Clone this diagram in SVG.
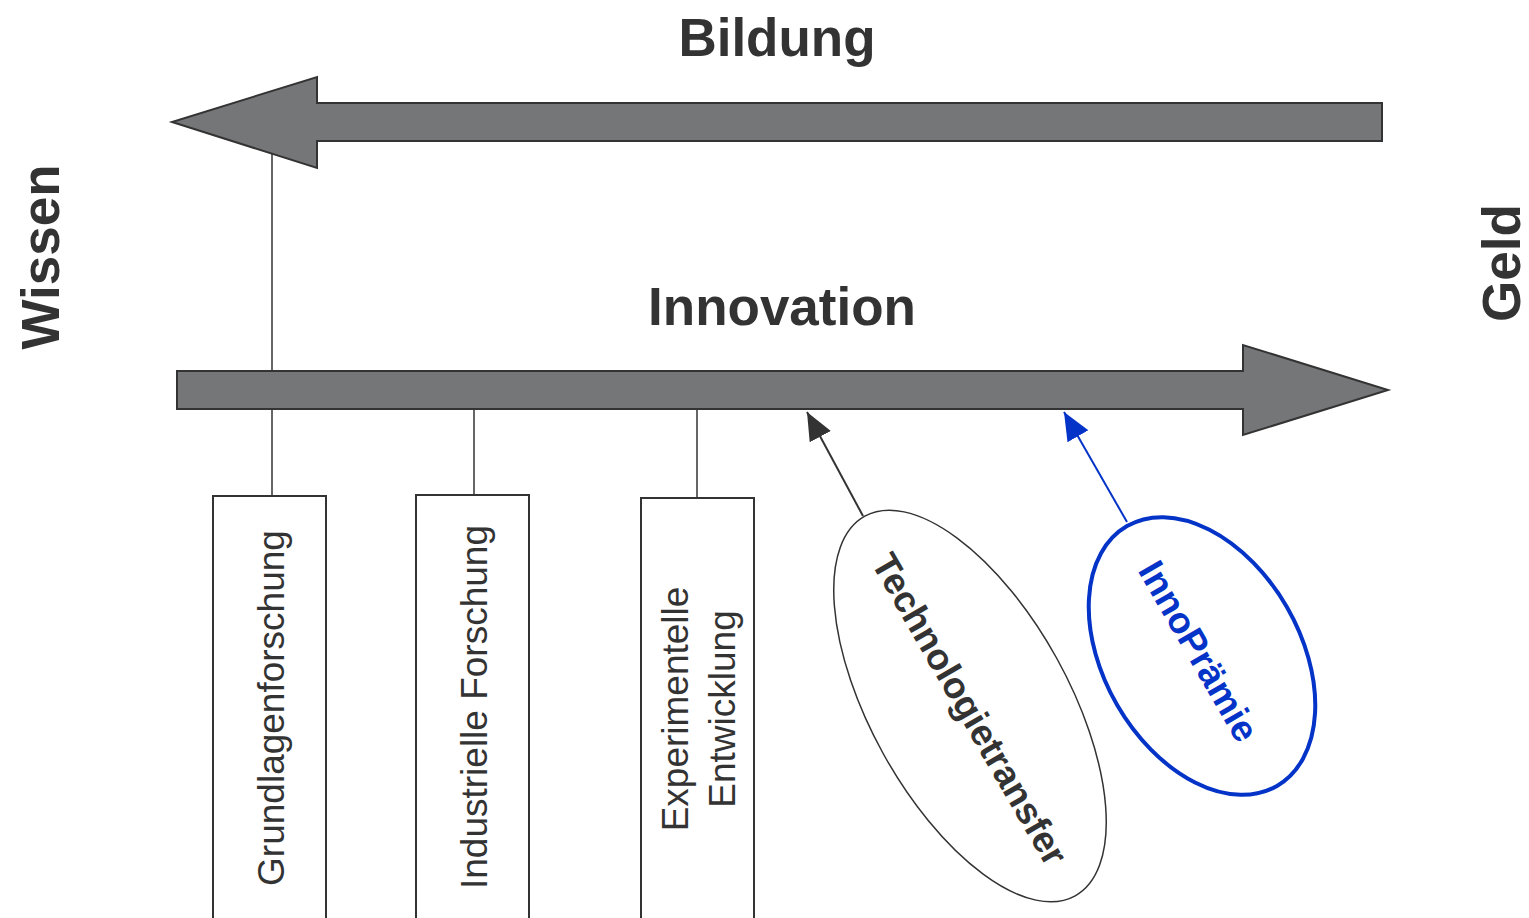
<svg xmlns="http://www.w3.org/2000/svg" width="1529" height="918" viewBox="0 0 1529 918">
  <defs>
    <style>
      .big-arrow { fill: #757678; stroke: #333333; stroke-width: 2; stroke-linejoin: miter; }
      .box { fill: #ffffff; stroke: #333333; stroke-width: 2; }
      .link { stroke: #333333; stroke-width: 1.5; fill: none; }
      .title { font-family: "Liberation Sans", Arial, sans-serif; font-weight: bold; font-size: 53px; fill: #333333; text-anchor: middle; }
      .label { font-family: "Liberation Sans", Arial, sans-serif; font-size: 37px; fill: #333333; text-anchor: middle; }
      .oval-label { font-family: "Liberation Sans", Arial, sans-serif; font-weight: bold; font-size: 37px; text-anchor: middle; }
    </style>
    <marker id="head-dark" markerUnits="userSpaceOnUse" markerWidth="30" markerHeight="30" viewBox="0 0 30 30" refX="28" refY="15" orient="auto">
      <path d="M0,3 L28,15 L0,27 Z" fill="#333333"/>
    </marker>
    <marker id="head-blue" markerUnits="userSpaceOnUse" markerWidth="30" markerHeight="30" viewBox="0 0 30 30" refX="28" refY="15" orient="auto">
      <path d="M0,3 L28,15 L0,27 Z" fill="#0433c8"/>
    </marker>
  </defs>

  <rect width="1529" height="918" fill="#ffffff"/>

  <!-- axis labels -->
  <g id="labels">
    <text class="title" x="777" y="56">Bildung</text>
    <text class="title" x="782" y="325">Innovation</text>
    <text class="title" transform="translate(59,257) rotate(-90)">Wissen</text>
    <text class="title" transform="translate(1520,263) rotate(-90)">Geld</text>
  </g>

  <!-- connectors -->
  <g id="connectors">
    <line class="link" x1="272" y1="154" x2="272" y2="371"/>
    <line class="link" x1="272" y1="409" x2="272" y2="496"/>
    <line class="link" x1="474" y1="409" x2="474" y2="495"/>
    <line class="link" x1="697" y1="409" x2="697" y2="498"/>
    <line x1="863" y1="516" x2="807" y2="412" stroke="#333333" stroke-width="2" marker-end="url(#head-dark)"/>
    <line x1="1127" y1="522" x2="1064" y2="412" stroke="#0433c8" stroke-width="2" marker-end="url(#head-blue)"/>
  </g>

  <!-- Bildung arrow (right to left) -->
  <g id="arrow-bildung">
    <polygon class="big-arrow" points="1382,103 317,103 317,77 172,122 317,168 317,141 1382,141"/>
  </g>

  <!-- Innovation arrow (left to right) -->
  <g id="arrow-innovation">
    <polygon class="big-arrow" points="177,371 1243,371 1243,345 1388,390 1243,435 1243,409 177,409"/>
  </g>

  <g id="grundlagenforschung">
    <rect class="box" x="213" y="496" width="113" height="440"/>
    <text class="label" transform="translate(284,708) rotate(-90)">Grundlagenforschung</text>
  </g>

  <g id="industrielle-forschung">
    <rect class="box" x="416" y="495" width="113" height="440"/>
    <text class="label" transform="translate(487,707) rotate(-90)">Industrielle Forschung</text>
  </g>

  <g id="experimentelle-entwicklung">
    <rect class="box" x="641" y="498" width="113" height="440"/>
    <text class="label" transform="translate(688,709) rotate(-90)">Experimentelle</text>
    <text class="label" transform="translate(735,709) rotate(-90)">Entwicklung</text>
  </g>

  <g id="technologietransfer">
    <ellipse cx="970" cy="706" rx="217" ry="99" transform="rotate(61 970 706)" fill="#ffffff" stroke="#333333" stroke-width="1.5"/>
    <text class="oval-label" fill="#333333" transform="translate(970,709) rotate(60)" y="13">Technologietransfer</text>
  </g>

  <g id="innopraemie">
    <ellipse cx="1202" cy="656" rx="150" ry="98" transform="rotate(60 1202 656)" fill="#ffffff" stroke="#0433c8" stroke-width="4"/>
    <text class="oval-label" fill="#0433c8" transform="translate(1199,651) rotate(60)" y="13">InnoPrämie</text>
  </g>
</svg>
